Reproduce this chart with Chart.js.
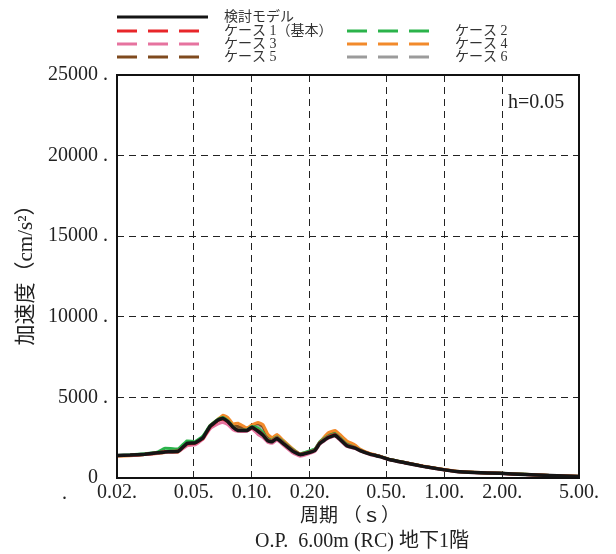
<!DOCTYPE html>
<html>
<head>
<meta charset="utf-8">
<script src="https://cdn.jsdelivr.net/npm/chart.js@4/dist/chart.umd.min.js"></script>
<style>
  body { margin: 0; background: #fff; }
  canvas { display: block; }
</style>
</head>
<body>
<canvas id="chart" width="616" height="554"></canvas>
<script>
// periods (s)
const periods = [0.020,0.0234,0.0279,0.0326,0.0355,0.0415,0.0462,0.0508,0.0559,0.0608,0.0669,0.0710,0.0753,0.0800,0.0849,0.0946,0.1004,0.1079,0.1145,0.1215,0.1275,0.1353,0.1454,0.1638,0.1781,0.196,0.213,0.226,0.249,0.271,0.287,0.312,0.344,0.365,0.411,0.463,0.522,0.640,0.775,0.983,1.16,1.44,1.94,2.62,3.53,5.0]

const model = [1400,1420,1480,1560,1620,1650,2150,2180,2500,3200,3600,3700,3500,3150,2950,2950,3150,2900,2650,2300,2250,2450,2150,1650,1450,1560,1720,2150,2500,2650,2400,2000,1850,1700,1480,1330,1130,920,720,520,400,340,290,220,150,100]
const case1 = [1390,1410,1470,1560,1640,1680,2100,2150,2450,3150,3550,3650,3480,3150,2980,2950,3100,2950,2700,2350,2300,2500,2200,1700,1480,1580,1750,2200,2550,2700,2450,2050,1880,1720,1500,1340,1140,930,730,530,410,340,290,220,150,100]
const case2 = [1400,1430,1500,1620,1850,1800,2300,2250,2600,3250,3650,3750,3550,3200,3000,2980,3200,3100,2800,2400,2350,2550,2250,1750,1500,1650,1800,2250,2600,2750,2500,2100,1900,1730,1500,1350,1150,930,730,530,410,345,290,225,155,100]
const case3 = [1380,1400,1450,1540,1600,1620,2000,2050,2400,3050,3350,3450,3300,3000,2900,2900,3050,2700,2500,2200,2150,2350,2050,1550,1350,1480,1650,2100,2450,2600,2350,1950,1820,1680,1460,1310,1120,910,710,510,390,330,280,215,145,95]
const case4 = [1350,1380,1450,1520,1580,1600,2100,2150,2450,3250,3650,3900,3750,3350,3400,3100,3300,3450,3300,2700,2500,2700,2350,1800,1500,1600,1700,2200,2800,2950,2700,2300,2050,1800,1520,1350,1150,940,740,540,420,350,300,230,160,110]
const case5 = [1390,1400,1460,1550,1600,1630,2150,2180,2500,3200,3600,3800,3600,3250,3200,3050,3250,3400,3200,2550,2400,2600,2300,1700,1460,1570,1720,2200,2700,2850,2600,2200,1950,1750,1500,1340,1140,930,730,530,410,340,290,220,150,100]
const case6 = [1400,1410,1470,1550,1610,1640,2150,2200,2500,3200,3600,3750,3550,3200,3150,3000,3200,3300,3100,2500,2400,2600,2300,1700,1480,1600,1750,2250,2700,2850,2650,2250,1950,1750,1500,1340,1140,930,730,530,410,345,290,225,155,105]

const xTicks = [0.02, 0.05, 0.1, 0.2, 0.5, 1, 2, 5]
const xLabels = ["0.02.", "0.05.", "0.10.", "0.20.", "0.50.", "1.00.", "2.00.", "5.00."]
const yLabels = ["0\u00a0\u00a0", "5000 .", "10000 .", "15000 .", "20000 .", "25000 ."]

const serif = '"Liberation Serif", "DejaVu Serif", serif'
const jp = '"Liberation Serif", "Noto Sans CJK JP", sans-serif'

const series = [
  { label: "検討モデル", data: model, color: "#151515", width: 3.5 },
  { label: "ケース 1（基本）", data: case1, color: "#e8262a", width: 3 },
  { label: "ケース 2", data: case2, color: "#2bb34b", width: 3 },
  { label: "ケース 3", data: case3, color: "#e6739f", width: 3 },
  { label: "ケース 4", data: case4, color: "#f28a2b", width: 3 },
  { label: "ケース 5", data: case5, color: "#7f4a1e", width: 3 },
  { label: "ケース 6", data: case6, color: "#9b9b9b", width: 3 }
]

const extras = {
  id: "extras",
  beforeDraw(chart) {
    const c = chart.ctx
    c.save()
    c.fillStyle = "#fff"
    c.fillRect(0, 0, chart.width, chart.height)
    c.restore()
  },
  afterDraw(chart) {
    const c = chart.ctx
    const a = chart.chartArea
    c.save()
    // frame
    c.setLineDash([])
    c.strokeStyle = "#111"
    c.lineWidth = 2
    c.strokeRect(a.left, a.top, a.right - a.left, a.bottom - a.top)

    // legend
    const rows = [
      [0, 117, 224, 17], [1, 117, 224, 31], [2, 347, 455, 31],
      [3, 117, 224, 44], [4, 347, 455, 44], [5, 117, 224, 57], [6, 347, 455, 57]
    ]
    rows.forEach(([i, x0, tx, y]) => {
      const s = series[i]
      c.beginPath()
      c.strokeStyle = s.color
      c.lineWidth = 3
      if (i === 0) {
        c.setLineDash([])
        c.moveTo(x0, y); c.lineTo(x0 + 91, y)
      } else {
        c.setLineDash([20, 11])
        c.moveTo(x0, y); c.lineTo(x0 + 83, y)
      }
      c.stroke()
      c.fillStyle = "#333"
      c.font = "14px " + jp
      c.textAlign = "left"
      c.textBaseline = "middle"
      c.fillText(s.label, tx, y)
    })
    c.setLineDash([])

    c.fillStyle = "#222"
    c.font = "20px " + serif
    c.textAlign = "left"
    c.textBaseline = "middle"
    c.fillText("h=0.05", 508, 103)
    c.fillText(".", 62, 494)

    // axis titles
    c.font = "19px " + jp
    c.textAlign = "center"
    c.fillText("周期 （ｓ）", 350, 517)
    c.font = "20px " + jp
    c.textAlign = "left"
    c.fillText("O.P.  6.00m (RC) 地下1階", 255, 542)

    c.translate(26, 270)
    c.rotate(-Math.PI / 2)
    c.textAlign = "center"
    c.font = "21px " + jp
    c.fillText("加速度（cm/s²）", 0, 0)
    c.restore()
  }
}

new Chart(document.getElementById("chart"), {
  type: "line",
  data: {
    datasets: series.map(s => ({
      label: s.label,
      data: periods.map((p, i) => ({ x: p, y: s.data[i] })),
      borderColor: s.color,
      borderWidth: s.width,
      pointRadius: 0,
      fill: false,
      tension: 0.1
    }))
  },
  options: {
    responsive: false,
    animation: false,
    layout: { padding: { top: 75, right: 37, left: 0, bottom: 0 } },
    plugins: { legend: { display: false }, tooltip: { enabled: false } },
    scales: {
      x: {
        type: "logarithmic",
        min: 0.02,
        max: 5,
        afterBuildTicks: s => { s.ticks = xTicks.map(v => ({ value: v })) },
        afterFit: s => { s.height = 76 },
        ticks: {
          autoSkip: false,
          maxRotation: 0,
          padding: 3,
          color: "#222",
          font: { family: serif, size: 20 },
          callback: (v, i) => xLabels[i]
        },
        grid: {
          drawTicks: false,
          lineWidth: 1,
          color: ctx => (ctx.tick && (ctx.tick.value === 0.02 || ctx.tick.value === 5)) ? "rgba(0,0,0,0)" : "#222"
        },
        border: { display: false, dash: [7, 5] }
      },
      y: {
        min: 0,
        max: 25000,
        afterFit: s => { s.width = 117 },
        ticks: {
          stepSize: 5000,
          padding: 9,
          color: "#222",
          font: { family: serif, size: 20 },
          callback: (v, i) => yLabels[i]
        },
        grid: {
          drawTicks: false,
          lineWidth: 1,
          color: ctx => (ctx.tick && (ctx.tick.value === 0 || ctx.tick.value === 25000)) ? "rgba(0,0,0,0)" : "#222"
        },
        border: { display: false, dash: [7, 5] }
      }
    }
  },
  plugins: [extras]
})
</script>
</body>
</html>
